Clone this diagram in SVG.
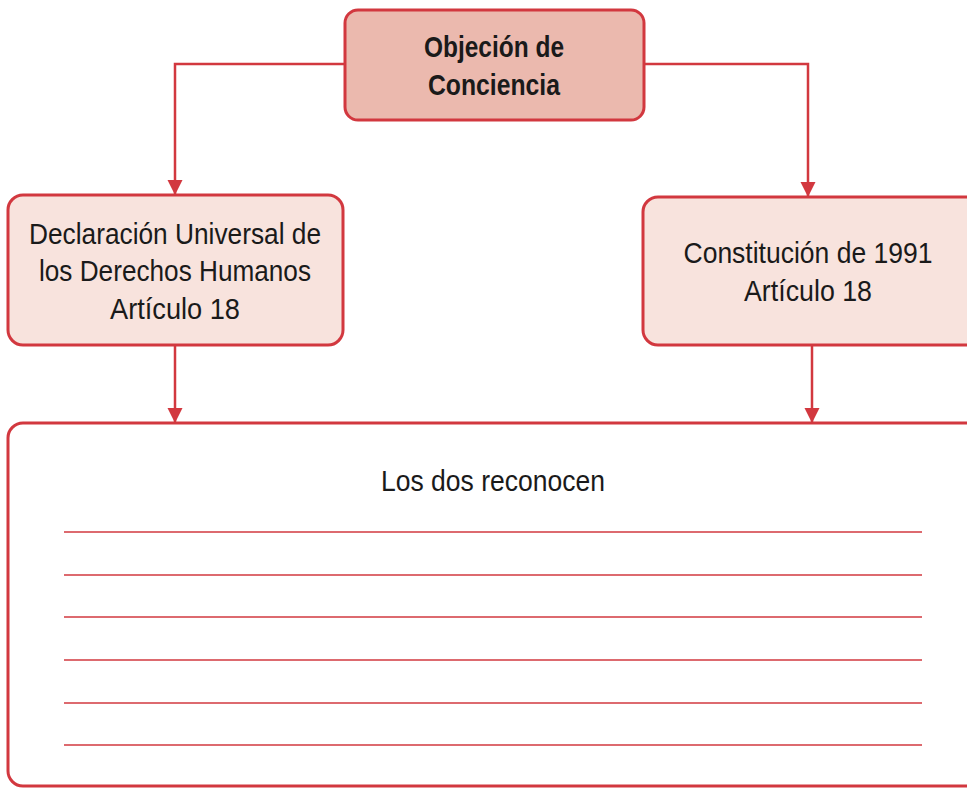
<svg xmlns="http://www.w3.org/2000/svg" width="967" height="788" viewBox="0 0 967 788">
<style>
.box{stroke:#d2383f;stroke-width:3}
.t{font-family:"Liberation Sans Narrow","Liberation Sans",Arial,sans-serif;fill:#1a1a1a;text-anchor:middle}
.b{font-weight:bold}
.c{fill:none;stroke:#d2383f;stroke-width:2.5}
.rule{stroke:#d2383f;stroke-width:1.6}
</style>
<defs>
<marker id="ah" viewBox="0 0 10 10" refX="10" refY="5" markerWidth="6" markerHeight="6.4" orient="auto" markerUnits="strokeWidth">
<path d="M0,0 L10,5 L0,10 z" fill="#d2383f"/>
</marker>
</defs>
<rect width="967" height="788" fill="#ffffff"/>
<g id="connectors">
<path class="c" d="M345,64 H175 V195" marker-end="url(#ah)"/>
<path class="c" d="M644,64 H808 V197" marker-end="url(#ah)"/>
<path class="c" d="M175,345 V423" marker-end="url(#ah)"/>
<path class="c" d="M812,345 V423" marker-end="url(#ah)"/>
</g>
<g id="n1">
<rect class="box" x="345" y="10" width="299" height="110" rx="13" fill="#ebb9ae"/>
<text class="t b" x="494" y="57" font-size="30" textLength="140" lengthAdjust="spacingAndGlyphs">Objeción de</text>
<text class="t b" x="494" y="95" font-size="30" textLength="132" lengthAdjust="spacingAndGlyphs">Conciencia</text>
</g>
<g id="n2">
<rect class="box" x="8" y="195" width="335" height="150" rx="15" fill="#f8e3dd"/>
<text class="t" x="175" y="244" font-size="29.5" textLength="292" lengthAdjust="spacingAndGlyphs">Declaración Universal de</text>
<text class="t" x="175" y="281" font-size="29.5" textLength="272" lengthAdjust="spacingAndGlyphs">los Derechos Humanos</text>
<text class="t" x="175" y="319" font-size="29.5" textLength="130" lengthAdjust="spacingAndGlyphs">Artículo 18</text>
</g>
<g id="n3">
<rect class="box" x="643" y="197" width="340" height="148" rx="15" fill="#f8e3dd"/>
<text class="t" x="808" y="263" font-size="29.5" textLength="249" lengthAdjust="spacingAndGlyphs">Constitución de 1991</text>
<text class="t" x="808" y="301" font-size="29.5" textLength="128" lengthAdjust="spacingAndGlyphs">Artículo 18</text>
</g>
<g id="n4">
<rect class="box" x="8" y="423" width="990" height="363" rx="15" fill="#ffffff"/>
<text class="t" x="493" y="491" font-size="29.5" textLength="224" lengthAdjust="spacingAndGlyphs">Los dos reconocen</text>
<line class="rule" x1="64" y1="532" x2="922" y2="532"/>
<line class="rule" x1="64" y1="575" x2="922" y2="575"/>
<line class="rule" x1="64" y1="617" x2="922" y2="617"/>
<line class="rule" x1="64" y1="660" x2="922" y2="660"/>
<line class="rule" x1="64" y1="703" x2="922" y2="703"/>
<line class="rule" x1="64" y1="745" x2="922" y2="745"/>
</g>
</svg>
